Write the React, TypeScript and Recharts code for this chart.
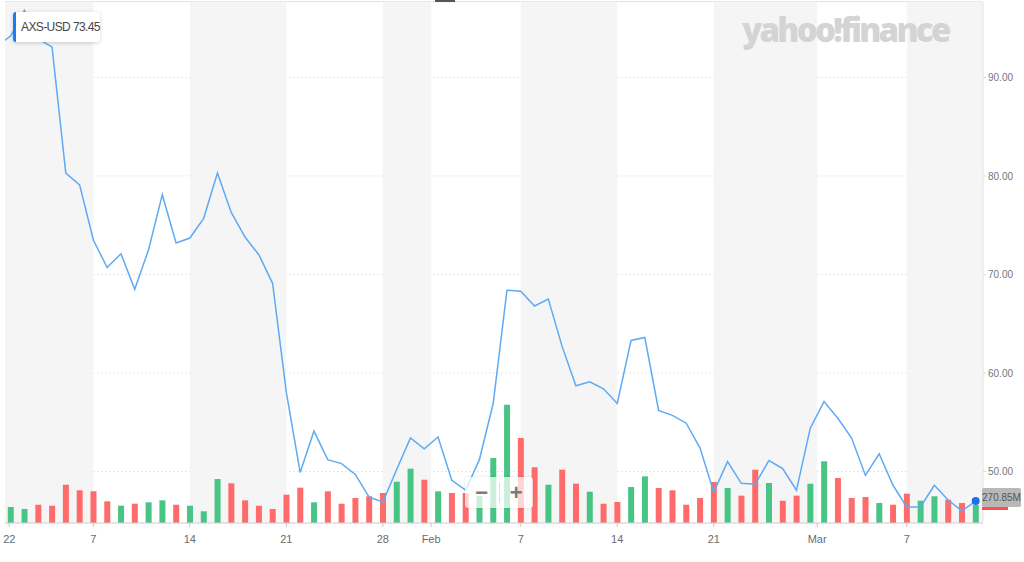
import React from 'react'
import {
  ComposedChart,
  Line,
  Bar,
  Cell,
  XAxis,
  YAxis,
  CartesianGrid,
  ReferenceArea,
  ReferenceDot,
} from 'recharts'

// day index: 0 = Jan 1 2022
const days = [
  -1, 0, 1, 2, 3, 4, 5, 6, 7, 8, 9, 10, 11, 12, 13, 14, 15, 16, 17, 18, 19, 20, 21, 22, 23, 24, 25, 26,
  27, 28, 29, 30, 31, 32, 33, 34, 35, 36, 37, 38, 39, 40, 41, 42, 43, 44, 45, 46, 47, 48, 49, 50, 51,
  52, 53, 54, 55, 56, 57, 58, 59, 60, 61, 62, 63, 64, 65, 66, 67, 68, 69, 70,
]

const closes = [
  93.2, 94.2, 96.8, 93.9, 93.1, 80.3, 79.1, 73.5, 70.7, 72.1, 68.5, 72.5, 78.1, 73.2, 73.7, 75.7, 80.3,
  76.3, 73.8, 72.0, 69.1, 58.0, 49.9, 54.1, 51.2, 50.8, 49.7, 47.4, 46.9, 50.2, 53.4, 52.3, 53.5, 49.1,
  48.1, 51.2, 56.9, 68.4, 68.3, 66.8, 67.5, 62.7, 58.7, 59.1, 58.4, 56.9, 63.3, 63.6, 56.2, 55.7, 54.9,
  52.4, 47.9, 51.0, 48.8, 48.7, 51.1, 50.3, 48.1, 54.4, 57.1, 55.4, 53.4, 49.6, 51.8, 48.6, 46.4, 46.4,
  48.6, 47.1, 46.0, 47.0,
]

// volume in millions, null where not shown
const volumes = [
  null, 241, 211, 275, 260, 576, 492, 477, 326, 260, 290, 311, 341, 275, 260, 176, 662, 597, 341, 260,
  211, 426, 531, 311, 477, 290, 376, 402, 451, 621, 817, 651, 477, 451, 451, 406, 978, 1779, 1278, 838,
  576, 802, 591, 471, 290, 316, 541, 702, 526, 492, 275, 376, 617, 526, 411, 802, 602, 335, 411, 591,
  928, 677, 376, 391, 301, 275, 441, 335, 402, 350, 301, 271,
]

// 1 = up day (green), 0 = down day (red)
const upDay = [
  0, 1, 1, 0, 0, 0, 0, 0, 0, 1, 0, 1, 1, 0, 1, 1, 1, 0, 0, 0, 0, 0, 0, 1, 0, 0, 0, 0, 0, 1, 1, 0, 1,
  0, 0, 1, 1, 1, 0, 0, 1, 0, 0, 1, 0, 0, 1, 1, 0, 0, 0, 0, 0, 1, 0, 0, 1, 0, 0, 1, 1, 0, 0, 0, 1, 0,
  0, 1, 1, 0, 0, 1,
]

const xTicks = [-0.1, 6, 13, 20, 27, 30.5, 37, 44, 51, 58.5, 65]
const xTickLabels = ['22', '7', '14', '21', '28', 'Feb', '7', '14', '21', 'Mar', '7']

const priceTicks = [50, 60, 70, 80, 90]

const bandStarts = [-0.41, 13, 27, 37, 51, 65]
const bandEnds = [6, 20, 30.5, 44, 58.5, 70.53]

const UP = '#48c485'
const DOWN = '#ff6b6b'
const LINE = '#5eaaf5'
const FONT = '"Liberation Sans", Arial, sans-serif'

const data = days.map((d, i) => ({ d, close: closes[i], vol: volumes[i] }))
const last = data[data.length - 1]

function xLabel(v: number): string {
  const i = xTicks.indexOf(v)
  return i >= 0 ? xTickLabels[i] : ''
}

export default function App() {
  return (
    <div style={{ position: 'absolute', left: 0, top: 0, width: 1024, height: 562, background: '#fff', fontFamily: FONT }}>
      <ComposedChart width={1024} height={562} data={data} margin={{ top: 2, right: 0, left: 5, bottom: 0 }}>
        {bandStarts.map((s, i) => (
          <ReferenceArea
            key={i}
            yAxisId="price"
            x1={s}
            x2={bandEnds[i]}
            fill="#f5f5f5"
            fillOpacity={1}
            stroke="none"
            ifOverflow="hidden"
          />
        ))}
        <CartesianGrid yAxisId="price" vertical={false} stroke="#e6e6e6" strokeDasharray="2 2" />
        <XAxis
          dataKey="d"
          type="number"
          domain={[-0.41, 70.53]}
          allowDataOverflow
          ticks={xTicks}
          tickFormatter={xLabel}
          height={39}
          tick={{ fontSize: 11, fill: '#6b6b6b', fontFamily: FONT }}
          tickSize={4}
          tickMargin={8}
          tickLine={{ stroke: '#c8c8c8' }}
          axisLine={{ stroke: '#d0d0d0' }}
          interval={0}
        />
        <YAxis
          yAxisId="price"
          orientation="right"
          domain={[44.77, 97.66]}
          allowDataOverflow
          ticks={priceTicks}
          tickFormatter={(v: number) => v.toFixed(2)}
          width={41}
          tick={{ fontSize: 10, fill: '#777', fontFamily: FONT }}
          tickSize={3}
          tickMargin={2}
          tickLine={{ stroke: '#d8d8d8' }}
          axisLine={{ stroke: '#e3e3e3' }}
        />
        <YAxis yAxisId="vol" hide domain={[0, 7836]} allowDataOverflow />
        <Bar yAxisId="vol" dataKey="vol" barSize={6} isAnimationActive={false}>
          {data.map((_, i) => (
            <Cell key={i} fill={upDay[i] ? UP : DOWN} />
          ))}
        </Bar>
        <Line
          yAxisId="price"
          type="linear"
          dataKey="close"
          stroke={LINE}
          strokeWidth={1.5}
          dot={false}
          isAnimationActive={false}
        />
        <ReferenceDot yAxisId="price" x={last.d} y={last.close} r={4} fill="#1a73e8" stroke="none" />
      </ComposedChart>

      {/* top border */}
      <div style={{ position: 'absolute', left: 5, top: 1, width: 978, height: 1, background: '#e8e8e8' }} />
      <div style={{ position: 'absolute', left: 435, top: 0, width: 20, height: 2, background: '#555' }} />

      {/* watermark */}
      <div
        style={{
          position: 'absolute',
          left: 742,
          top: 8,
          fontFamily: '"Open Sans", sans-serif',
          fontWeight: 800,
          fontSize: 33,
          letterSpacing: -2.7,
          color: '#d4d4d4',
          lineHeight: '44px',
        }}
      >
        yahoo!finance
      </div>

      {/* symbol label */}
      <div
        style={{
          position: 'absolute',
          left: 13,
          top: 12,
          width: 87,
          height: 30,
          background: '#fff',
          borderLeft: '3px solid #1a7cf0',
          borderRadius: 3,
          boxShadow: '0 1px 4px rgba(0,0,0,0.18)',
          fontSize: 12,
          letterSpacing: -0.6,
          color: '#464646',
          lineHeight: '30px',
          paddingLeft: 5,
          boxSizing: 'border-box',
          whiteSpace: 'nowrap',
        }}
      >
        AXS-USD 73.45
      </div>

      {/* zoom control */}
      <div
        style={{
          position: 'absolute',
          left: 465,
          top: 477,
          width: 68,
          height: 31,
          background: 'rgba(255,255,255,0.72)',
          borderRadius: 3,
          boxShadow: '0 0 3px rgba(0,0,0,0.12)',
          display: 'flex',
          alignItems: 'center',
          color: '#7a7a7a',
          fontWeight: 700,
          fontSize: 22,
        }}
      >
        <div style={{ width: 34, textAlign: 'center', borderRight: '1px solid #ddd', lineHeight: '20px' }}>−</div>
        <div style={{ width: 34, textAlign: 'center', lineHeight: '20px' }}>+</div>
      </div>

      {/* volume label */}
      <div style={{ position: 'absolute', left: 982, top: 507, width: 26, height: 3, background: '#ff4d4d' }} />
      <div
        style={{
          position: 'absolute',
          left: 982,
          top: 488,
          width: 39,
          height: 19,
          background: '#b8b8b8',
          borderRadius: 2,
          fontSize: 10,
          color: '#555',
          lineHeight: '19px',
          textAlign: 'center',
        }}
      >
        270.85M
      </div>
    </div>
  )
}
